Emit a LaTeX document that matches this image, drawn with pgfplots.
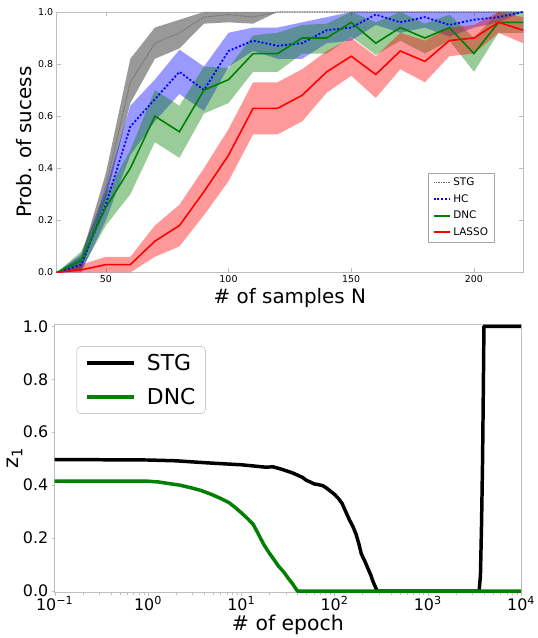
\documentclass[border=0pt]{standalone}
\usepackage{fontspec}
\setmainfont{DejaVu Sans}
\usepackage{pgfplots}
\usepackage{pgfplotstable}
\pgfplotsset{compat=1.18}
\usepgfplotslibrary{fillbetween}

\definecolor{axgray}{RGB}{190,190,190}
\definecolor{mplgreen}{RGB}{0,128,0}
\definecolor{stgline}{RGB}{110,110,110}

% N, mean, lower, upper
\pgfplotstableread{
N mean lo hi
30 0 0 0
40 0.03 0.01 0.06
50 0.33 0.28 0.38
60 0.73 0.65 0.82
70 0.88 0.82 0.94
80 0.92 0.86 0.97
90 0.98 0.955 1.0
100 0.99 0.96 1.0
110 0.98 0.955 1.0
120 1.0 1.0 1.0
130 1.0 1.0 1.0
140 1.0 1.0 1.0
150 1.0 1.0 1.0
160 1.0 1.0 1.0
170 1.0 1.0 1.0
180 1.0 1.0 1.0
190 1.0 1.0 1.0
200 1.0 1.0 1.0
210 1.0 1.0 1.0
220 1.0 1.0 1.0
}\stg

\pgfplotstableread{
N mean lo hi
30 0 0 0
40 0.03 0.0 0.07
50 0.26 0.20 0.32
60 0.56 0.45 0.64
70 0.665 0.58 0.74
80 0.77 0.685 0.855
90 0.70 0.62 0.79
100 0.85 0.79 0.92
110 0.89 0.85 0.94
120 0.87 0.82 0.94
130 0.88 0.82 0.96
140 0.93 0.88 0.98
150 0.94 0.89 1.0
160 0.99 0.95 1.0
170 0.96 0.92 1.0
180 0.98 0.94 1.0
190 0.95 0.905 1.0
200 0.97 0.94 1.0
210 0.98 0.96 1.0
220 1.0 1.0 1.0
}\hc

\pgfplotstableread{
N mean lo hi
30 0 0 0
40 0.045 0.01 0.08
50 0.25 0.18 0.30
60 0.40 0.30 0.47
70 0.60 0.50 0.70
80 0.54 0.44 0.64
90 0.70 0.61 0.79
100 0.74 0.65 0.785
110 0.84 0.77 0.91
120 0.84 0.77 0.92
130 0.90 0.84 0.95
140 0.90 0.84 0.955
150 0.96 0.905 1.0
160 0.88 0.835 0.96
170 0.94 0.89 1.0
180 0.90 0.84 0.955
190 0.94 0.89 0.99
200 0.84 0.77 0.90
210 0.96 0.92 1.0
220 0.96 0.92 1.0
}\dnc

\pgfplotstableread{
N mean lo hi
30 0 0 0
40 0.01 0 0.03
50 0.03 0 0.06
60 0.03 0 0.06
70 0.12 0.06 0.18
80 0.18 0.10 0.26
90 0.31 0.22 0.40
100 0.45 0.35 0.55
110 0.63 0.53 0.73
120 0.63 0.53 0.73
130 0.68 0.58 0.78
140 0.77 0.69 0.85
150 0.83 0.755 0.90
160 0.76 0.67 0.83
170 0.85 0.78 0.92
180 0.81 0.73 0.89
190 0.89 0.83 0.94
200 0.90 0.84 0.95
210 0.96 0.92 1.0
220 0.93 0.88 0.98
}\lasso

% epoch, z1
\pgfplotstableread{
ep z
0.1 0.496
0.3 0.496
1 0.495
2 0.492
4 0.485
7 0.480
10 0.477
14 0.472
18 0.468
22 0.469
26 0.462
30 0.455
35 0.447
40 0.438
45 0.430
50 0.418
55 0.412
60 0.405
67 0.402
75 0.398
85 0.385
100 0.365
110 0.350
121 0.330
132 0.300
144 0.270
157 0.245
170 0.215
182 0.180
194 0.140
210 0.115
229 0.084
245 0.060
260 0.034
275 0.015
285 0.0
3550 0.0
3670 0.06
3770 0.25
3870 0.5
3950 0.8
4000 1.0
10000 1.0
}\stgz

\pgfplotstableread{
ep z
0.1 0.415
1 0.415
1.3 0.412
1.75 0.405
2.2 0.400
2.9 0.390
3.7 0.380
4.8 0.365
6 0.350
7.4 0.334
8.6 0.316
10 0.296
11.6 0.275
13.4 0.2525
15.3 0.215
17.3 0.178
19.6 0.148
22.2 0.121
25 0.095
28.7 0.071
32 0.048
35.5 0.0275
40 0.0
10000 0.0
}\dncz

\begin{document}
\begin{tikzpicture}
\path (0pt,0pt) rectangle (541pt,638pt);

% ---------- top: probability of success ----------
\begin{axis}[
  at={(57pt,364pt)}, anchor=south west,
  scale only axis, width=469pt, height=262pt,
  xmin=30, xmax=220, ymin=0, ymax=1,
  xtick={50,100,150,200}, ytick={0,0.2,0.4,0.6,0.8,1.0},
  yticklabel style={/pgf/number format/.cd,fixed,fixed zerofill,precision=1},
  /pgf/number format/assume math mode=true,
  tick label style={font=\fontsize{9.5}{11}\selectfont},
  axis line style={axgray}, tick style={axgray}, major tick length=4pt,
  xlabel={\# of samples N}, ylabel={Prob. of sucess},
  xlabel style={at={(axis description cs:0.5,0)}, anchor=base, yshift=-31pt,
    font=\fontsize{20}{24}\selectfont},
  ylabel style={at={(axis description cs:-0.0544,0.5)}, anchor=base,
    font=\fontsize{20}{24}\selectfont},
  legend style={at={(0.938,0.382)}, anchor=north east, draw=gray!70,
    font=\fontsize{10.5}{12}\selectfont, row sep=3.3pt, inner xsep=4pt, inner ysep=3pt},
  legend cell align=left,
  legend image code/.code={\draw[#1] (0pt,0pt) -- (17pt,0pt);},
]
\addplot[draw=none, name path=sU, forget plot] table[x=N,y=hi]{\stg};
\addplot[draw=none, name path=sL, forget plot] table[x=N,y=lo]{\stg};
\addplot[fill=gray, fill opacity=0.8, draw=none, forget plot] fill between[of=sU and sL];
\addplot[draw=none, name path=hU, forget plot] table[x=N,y=hi]{\hc};
\addplot[draw=none, name path=hL, forget plot] table[x=N,y=lo]{\hc};
\addplot[fill=blue, fill opacity=0.4, draw=none, forget plot] fill between[of=hU and hL];
\addplot[draw=none, name path=dU, forget plot] table[x=N,y=hi]{\dnc};
\addplot[draw=none, name path=dL, forget plot] table[x=N,y=lo]{\dnc};
\addplot[fill=mplgreen, fill opacity=0.4, draw=none, forget plot] fill between[of=dU and dL];
\addplot[draw=none, name path=lU, forget plot] table[x=N,y=hi]{\lasso};
\addplot[draw=none, name path=lL, forget plot] table[x=N,y=lo]{\lasso};
\addplot[fill=red, fill opacity=0.4, draw=none, forget plot] fill between[of=lU and lL];

\addplot[stgline, line width=0.9pt, dash pattern=on 1.5pt off 1pt] table[x=N,y=mean]{\stg};
\addlegendentry{STG}
\addplot[blue, line width=1.8pt, dash pattern=on 2pt off 2pt] table[x=N,y=mean]{\hc};
\addlegendentry{HC}
\addplot[mplgreen, line width=1.6pt] table[x=N,y=mean]{\dnc};
\addlegendentry{DNC}
\addplot[red, line width=1.6pt] table[x=N,y=mean]{\lasso};
\addlegendentry{LASSO}
\end{axis}

% ---------- bottom: z1 against epoch ----------
\begin{axis}[
  at={(55pt,42pt)}, anchor=south west,
  scale only axis, width=469pt, height=270pt,
  xmode=log, xmin=0.1, xmax=10000, ymin=-0.006, ymax=1.008,
  xtick={0.1,1,10,100,1000,10000},
  xticklabels={10\textsuperscript{−1},10\textsuperscript{0},10\textsuperscript{1},10\textsuperscript{2},10\textsuperscript{3},10\textsuperscript{4}},
  ytick={0,0.2,0.4,0.6,0.8,1.0},
  yticklabel style={/pgf/number format/.cd,fixed,fixed zerofill,precision=1},
  /pgf/number format/assume math mode=true,
  tick label style={font=\fontsize{16}{18}\selectfont},
  xticklabel style={inner sep=0.5pt},
  axis line style={axgray}, tick style={axgray},
  major tick length=3pt, minor tick length=2pt,
  tick align=outside, xtick pos=bottom, ytick pos=left,
  xlabel={\# of epoch}, ylabel={z\textsubscript{1}},
  xlabel style={at={(axis description cs:0.5,0)}, anchor=base, yshift=-38pt,
    font=\fontsize{20.5}{24}\selectfont},
  ylabel style={at={(axis description cs:-0.0768,0.5)}, anchor=base,
    font=\fontsize{21}{24}\selectfont},
  legend style={at={(0.047,0.918)}, anchor=north west, draw=gray!60,
    rounded corners=4pt, font=\fontsize{22}{24}\selectfont,
    row sep=12pt, column sep=9pt, inner xsep=8pt, inner ysep=6pt},
  legend cell align=left,
  legend image code/.code={\draw[#1] (0pt,0pt) -- (48pt,0pt);},
]
\addplot[black, line width=3.5pt, line join=round] table[x=ep,y=z]{\stgz};
\addlegendentry{STG}
\addplot[mplgreen, line width=3.5pt, line join=round] table[x=ep,y=z]{\dncz};
\addlegendentry{DNC}
\end{axis}
\end{tikzpicture}
\end{document}
